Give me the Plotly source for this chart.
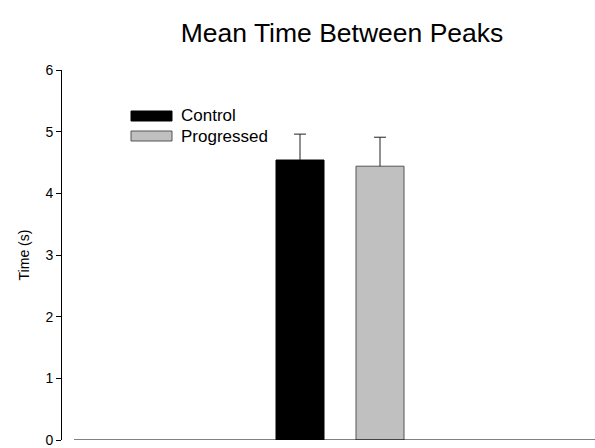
import plotly.graph_objects as go

# Data
groups = ["Control", "Progressed"]
mean_time = [4.54, 4.44]
sem_time = [0.42, 0.47]
fill_colors = ["#000000", "#c0c0c0"]
edge_colors = ["#000000", "#555555"]
y_ticks = [0, 1, 2, 3, 4, 5, 6]

FONT = "Arial, Liberation Sans, sans-serif"
W, H = 595, 448
ML, MR, MT, MB = 62, 0, 70, 8
plot_w = W - ML - MR
plot_h = H - MT - MB
CAP = 0.075  # half-width of the error bar cap, in x units

fig = go.Figure()
for i, (name, m, e, fc, ec) in enumerate(zip(groups, mean_time, sem_time, fill_colors, edge_colors)):
    fig.add_trace(go.Bar(
        x=[i], y=[m], name=name,
        marker=dict(color=fc, line=dict(color=ec, width=1)),
        width=0.6, showlegend=False,
    ))
    # upward-only error bar: stem plus top cap
    fig.add_trace(go.Scatter(
        x=[i, i, None, i - CAP, i + CAP],
        y=[m, m + e, None, m + e, m + e],
        mode="lines", line=dict(color="#222222", width=1),
        hoverinfo="skip", showlegend=False,
    ))

# Hand-drawn legend with wide swatches
def px_x(px):
    return (px - ML) / plot_w

def px_y(py):
    return (H - MB - py) / plot_h

for i, (name, fc, ec) in enumerate(zip(groups, fill_colors, edge_colors)):
    top = 111 + 20 * i
    fig.add_shape(type="rect", xref="paper", yref="paper",
                  x0=px_x(131), x1=px_x(172), y0=px_y(top + 10), y1=px_y(top),
                  fillcolor=fc, line=dict(color=ec, width=1))
    fig.add_annotation(xref="paper", yref="paper", x=px_x(179), y=px_y(top + 5),
                       text=name, showarrow=False, xanchor="left", yanchor="middle",
                       font=dict(family=FONT, size=17, color="#000000"))

# x axis baseline, offset from the y axis
fig.add_shape(type="line", xref="paper", yref="y", x0=px_x(74), x1=1, y0=0, y1=0,
              line=dict(color="#000000", width=1))

fig.update_layout(
    width=W, height=H,
    margin=dict(l=ML, r=MR, t=MT, b=MB),
    paper_bgcolor="white", plot_bgcolor="white",
    font=dict(family=FONT, color="#000000"),
    title=dict(text="Mean Time Between Peaks", x=342 / W, xanchor="center",
               y=1 - 33 / H, yanchor="middle",
               font=dict(family=FONT, size=26.5, color="#000000")),
    xaxis=dict(range=[-2.975, 3.6875], showline=False,
               showticklabels=False, ticks="", showgrid=False, zeroline=False),
    yaxis=dict(range=[0, 6], tickvals=y_ticks, ticks="outside", ticklen=5,
               tickcolor="#000000", showline=True, linecolor="#000000", linewidth=1,
               showgrid=False, zeroline=False,
               tickfont=dict(family=FONT, size=14, color="#000000"),
               title=dict(text="Time (s)", standoff=12,
                          font=dict(family=FONT, size=14, color="#000000"))),
)

fig.write_html("out.html")
